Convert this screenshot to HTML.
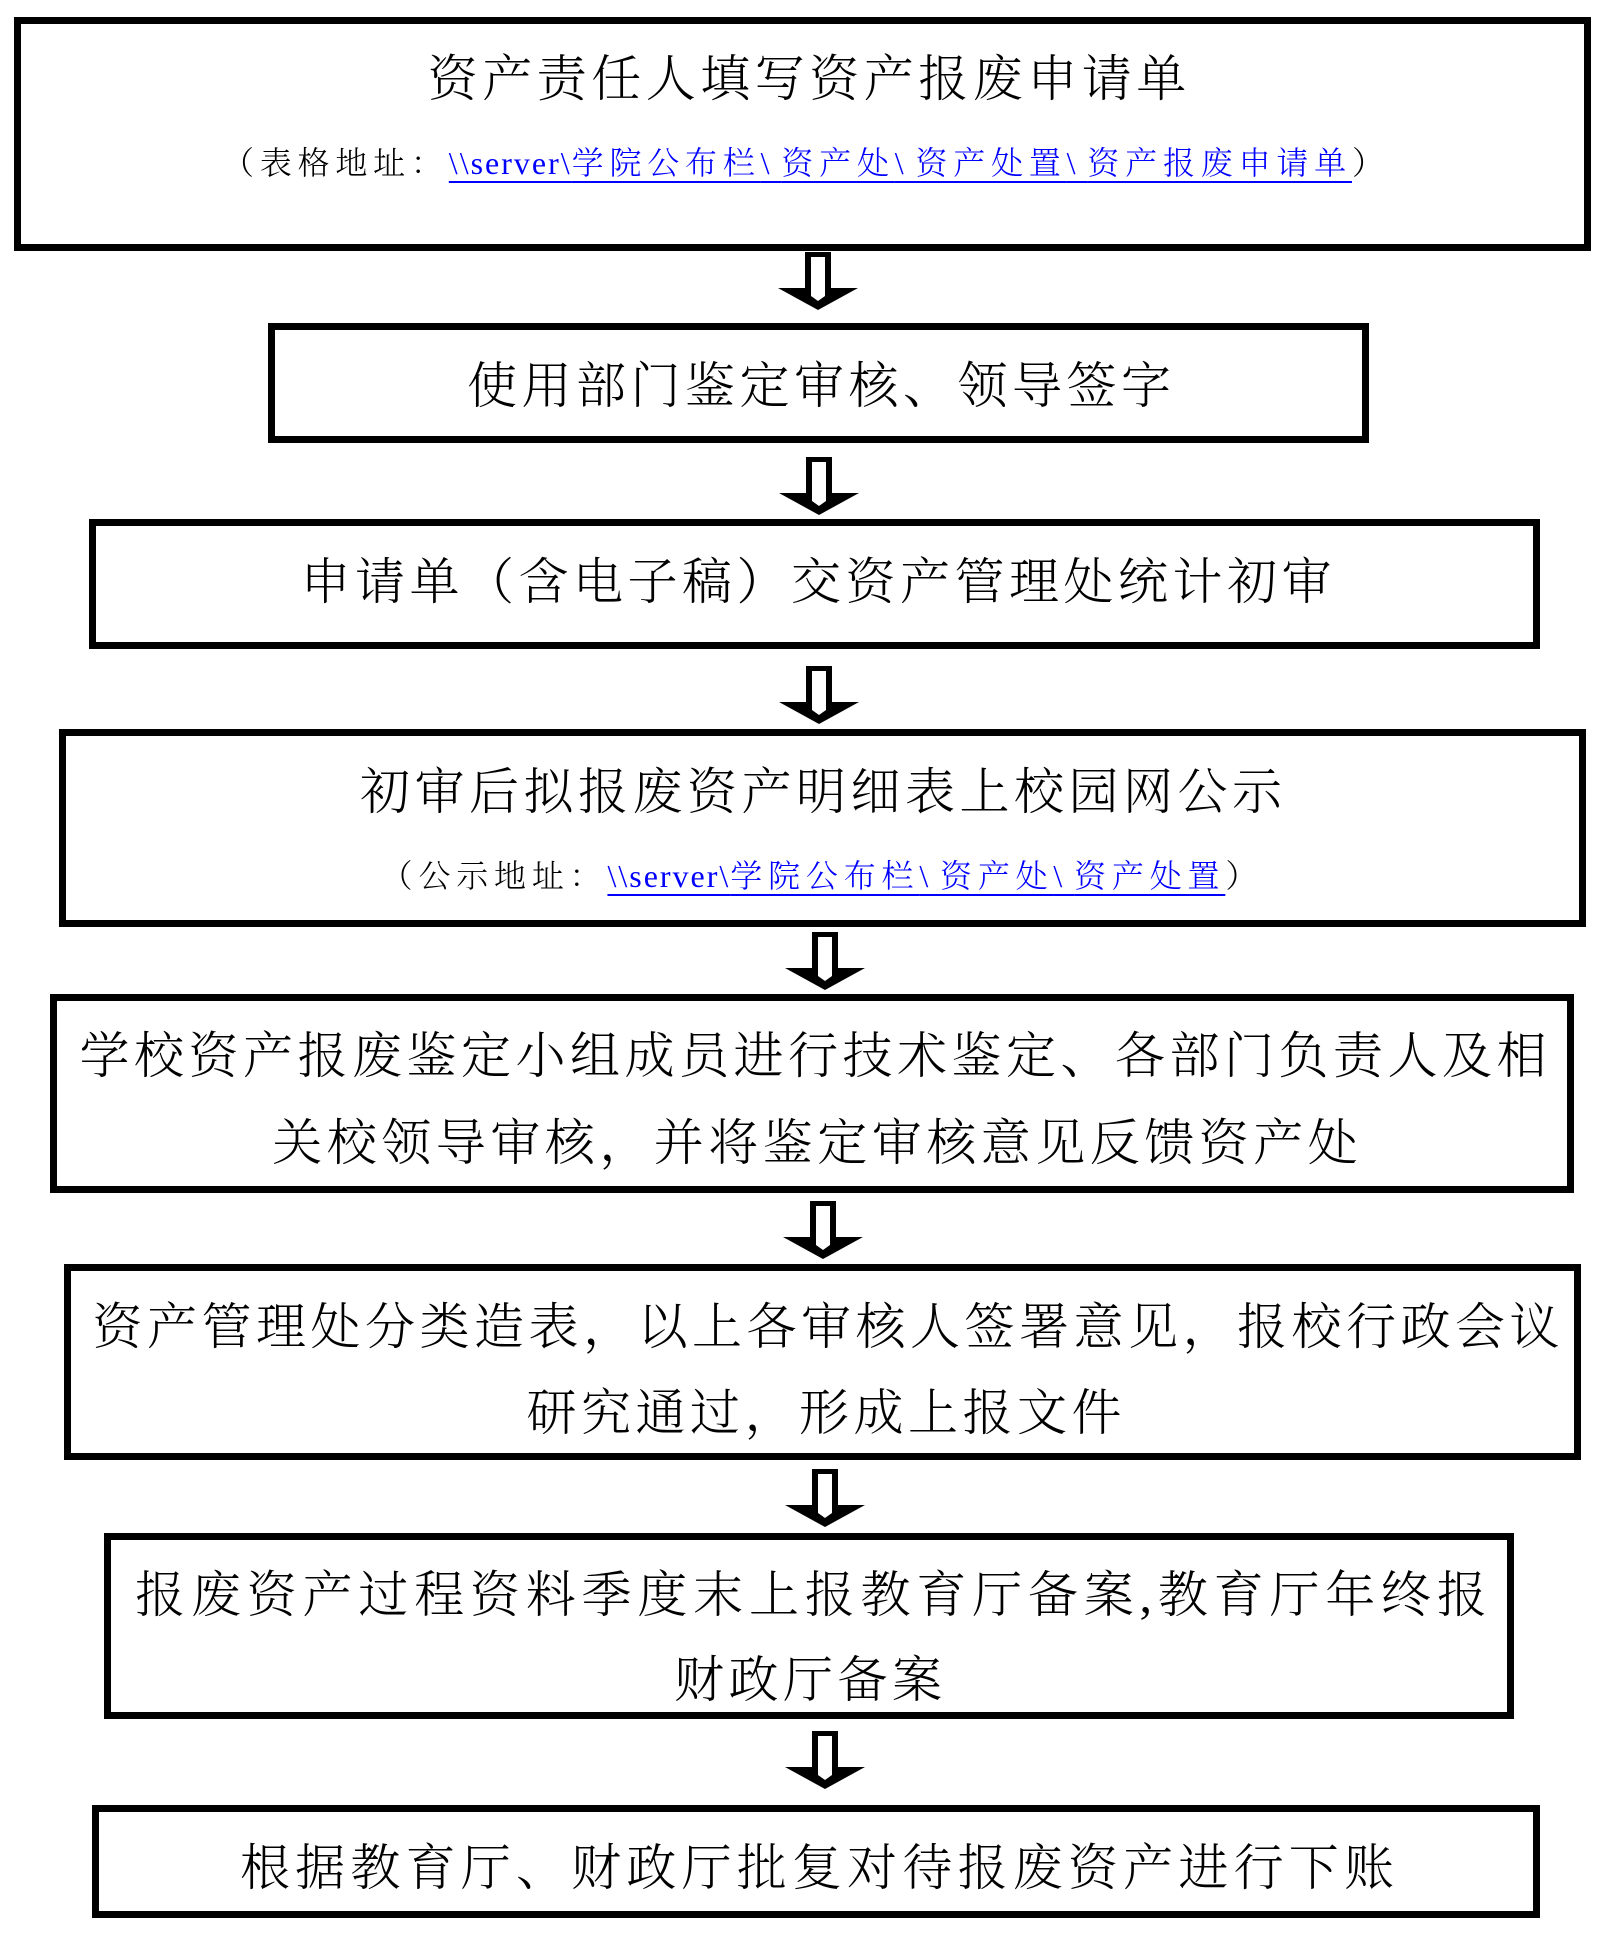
<!DOCTYPE html>
<html>
<head>
<meta charset="utf-8">
<style>
  html, body { margin:0; padding:0; background:#fff; }
  body { width:1608px; height:1947px; position:relative; overflow:hidden;
         font-family:"Liberation Serif","Noto Serif CJK SC",serif; color:#000; }
  .box { position:absolute; box-sizing:border-box; border:7px solid #000; background:#fff; }
  .t { position:absolute; white-space:nowrap; text-align:center; width:1600px;
       font-size:50px; line-height:50px; height:50px; letter-spacing:4.5px; padding-left:4.5px; box-sizing:border-box; font-weight:300; }
  .s { position:absolute; white-space:nowrap; text-align:center; width:1600px;
       font-size:32px; line-height:32px; height:32px; letter-spacing:5.8px; padding-left:5.8px; box-sizing:border-box; font-weight:300; }
  .lnk { color:#0000ff; text-decoration:underline; text-decoration-thickness:2px; text-underline-offset:7px; }
  .lat { letter-spacing:2px; }
  .bs { letter-spacing:11.8px; }
  svg { position:absolute; left:0; top:0; }
</style>
</head>
<body>
<div class="box" style="left:14px;top:17px;width:1577px;height:234px;"></div>
<div class="box" style="left:268px;top:323px;width:1101px;height:120px;"></div>
<div class="box" style="left:89px;top:519px;width:1451px;height:130px;"></div>
<div class="box" style="left:59px;top:729px;width:1527px;height:198px;"></div>
<div class="box" style="left:50px;top:994px;width:1524px;height:199px;"></div>
<div class="box" style="left:64px;top:1264px;width:1517px;height:196px;"></div>
<div class="box" style="left:104px;top:1533px;width:1410px;height:186px;"></div>
<div class="box" style="left:92px;top:1805px;width:1448px;height:113px;"></div>

<div class="t" style="left:7px;top:54px;">资产责任人填写资产报废申请单</div>
<div class="s" style="left:3px;top:147px;">（表格地址：<span class="lnk"><span class="lat">\\server\</span>学院公布栏<span class="bs">\</span>资产处<span class="bs">\</span>资产处置<span class="bs">\</span>资产报废申请单</span>）</div>

<div class="t" style="left:19px;top:361px;">使用部门鉴定审核、领导签字</div>

<div class="t" style="left:16px;top:557px;">申请单（含电子稿）交资产管理处统计初审</div>

<div class="t" style="left:21px;top:767px;">初审后拟报废资产明细表上校园网公示</div>
<div class="s" style="left:19px;top:860px;">（公示地址：<span class="lnk"><span class="lat">\\server\</span>学院公布栏<span class="bs">\</span>资产处<span class="bs">\</span>资产处置</span>）</div>

<div class="t" style="left:13px;top:1031px;">学校资产报废鉴定小组成员进行技术鉴定、各部门负责人及相</div>
<div class="t" style="left:15px;top:1118px;">关校领导审核，并将鉴定审核意见反馈资产处</div>

<div class="t" style="left:26px;top:1302px;">资产管理处分类造表，以上各审核人签署意见，报校行政会议</div>
<div class="t" style="left:24px;top:1388px;">研究通过，形成上报文件</div>

<div class="t" style="left:11px;top:1570px;letter-spacing:5.8px;padding-left:5.8px;">报废资产过程资料季度末上报教育厅备案,教育厅年终报</div>
<div class="t" style="left:8px;top:1655px;">财政厅备案</div>

<div class="t" style="left:17px;top:1843px;letter-spacing:5.2px;padding-left:5.2px;">根据教育厅、财政厅批复对待报废资产进行下账</div>

<svg width="1608" height="1947" viewBox="0 0 1608 1947">
  <defs>
    <g id="arr">
      <polygon points="-13,0 13,0 13,36 40,36 0,58 -40,36 -13,36" fill="#000"/>
      <polygon points="-7,5 7,5 7,44 0,49 -7,44" fill="#fff"/>
    </g>
  </defs>
  <use href="#arr" transform="translate(818,252)"/>
  <use href="#arr" transform="translate(819,457)"/>
  <use href="#arr" transform="translate(819,666)"/>
  <use href="#arr" transform="translate(825,932)"/>
  <use href="#arr" transform="translate(823,1201)"/>
  <use href="#arr" transform="translate(825,1469)"/>
  <use href="#arr" transform="translate(825,1731)"/>
</svg>
</body>
</html>
